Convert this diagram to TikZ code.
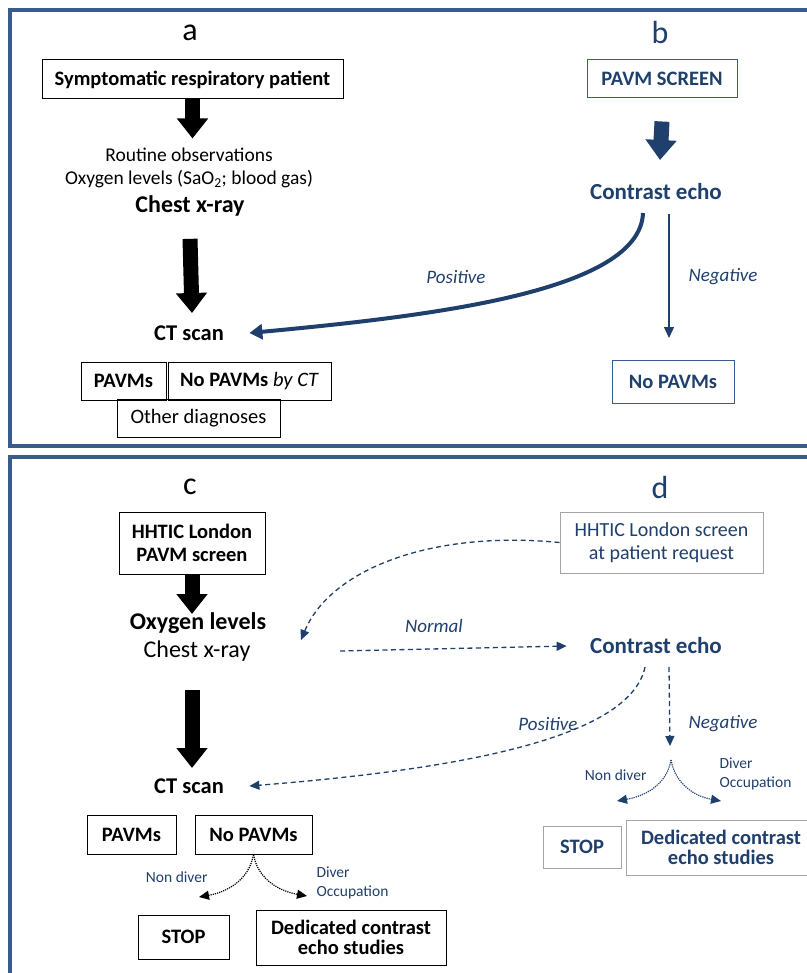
\documentclass[tikz,border=0pt]{standalone}
\usepackage{fontspec}
\setmainfont{Carlito}
\usetikzlibrary{arrows.meta}
\definecolor{panelblue}{RGB}{58,92,140}
\definecolor{navy}{RGB}{31,63,108}
\definecolor{boxgray}{RGB}{165,165,165}

\begin{document}
\begin{tikzpicture}[x=1pt, y=-1pt,
  panel/.style={draw=panelblue, line width=3.5pt},
  letter/.style={font=\fontsize{32}{32}\selectfont},
  box/.style={rectangle, draw, line width=1pt, inner sep=0pt, align=center, font=\bfseries\fontsize{20.5}{23}\selectfont},
  bluebox/.style={box, draw=panelblue, text=navy},
  graybox/.style={box, draw=boxgray, text=navy},
  plain/.style={font=\fontsize{19.5}{23}\selectfont, align=center},
  head/.style={font=\bfseries\fontsize{24}{26}\selectfont},
  echo/.style={font=\bfseries\fontsize{23}{25}\selectfont, text=navy},
  branch/.style={font=\itshape\fontsize{19}{22}\selectfont, text=navy},
  small/.style={font=\fontsize{15.5}{19}\selectfont, align=left},
  bigarrow/.style={draw, line width=15pt, -{Triangle[width=30pt,length=20pt]}},
  thick line/.style={draw=navy, line width=4pt, -{Triangle[width=15pt,length=13pt]}},
  thin line/.style={draw=navy, line width=1.3pt, -{Triangle[width=10pt,length=11pt]}},
  dash line/.style={draw=navy, line width=1.3pt, dash pattern=on 5pt off 3.5pt, -{Triangle[width=9pt,length=10pt]}},
  dot line/.style={draw, line width=1.2pt, densely dotted, -{Triangle[width=9pt,length=10pt]}}
]
    \useasboundingbox (0,0) rectangle (806,973);

    % panels
    \draw [panel] (10,10) rectangle (815,446);
    \draw [panel] (10,457) rectangle (815,985);

    % a
    \node [letter] (la) at (190,33) {a};
    \node [box, minimum width=301pt, minimum height=39pt] (symp) at (192.5,79.5) {Symptomatic respiratory patient};
    \node [plain] (obs) at (189,168) {Routine observations\\Oxygen levels (SaO\textsubscript{2}; blood gas)};
    \node [head] (xray) at (190,206) {Chest x-ray};
    \node [head, font=\bfseries\fontsize{22.5}{24}\selectfont] (cta) at (189,333) {CT scan};
    \node [box, minimum width=85pt, minimum height=38pt] (pavma) at (123.5,381) {PAVMs};
    \node [box, minimum width=163pt, minimum height=38pt] (nopavma) at (249.5,381) {No PAVMs \textmd{\itshape by CT}};
    \node [box, font=\fontsize{20.5}{23}\selectfont, minimum width=163pt, minimum height=38pt] (other) at (198.5,418) {Other diagnoses};

    \path [bigarrow] (symp.south) -- ++(0,39);
    \path [bigarrow] ([yshift=-19pt]xray.south) -- (192,313);

    % b
    \node [letter, text=navy] (lb) at (660,33) {b};
    \node [bluebox, minimum width=150pt, minimum height=38pt] (screen) at (662,79) {PAVM SCREEN};
    \node [echo] (echob) at (656,192) {Contrast echo};
    \node [bluebox, minimum width=122pt, minimum height=43pt] (nopavmb) at (673,381.5) {No PAVMs};
    \coordinate (posb) at (643,213);
    \coordinate (negb) at (669,214);

    \path [bigarrow, draw=navy] ([yshift=-23pt]screen.south) -- (660,160);
    \path [thick line] (posb) .. controls (640,292) and (430,316) .. ([xshift=22pt]cta.east);
    \path [thin line] (negb) -- (669,338);
    \node [branch] at (456,277) {Positive};
    \node [branch] at (723,277) {Negative};

    % c
    \node [letter] (lc) at (190,487) {c};
    \node [box, minimum width=146pt, minimum height=62pt] (hhtic) at (192,543) {HHTIC London\\PAVM screen};
    \node [head] (oxy) at (198,623) {Oxygen levels};
    \node [plain, font=\fontsize{24}{26}\selectfont] (xrayc) at (197,651) {Chest x-ray};
    \node [head, font=\bfseries\fontsize{22.5}{24}\selectfont] (ctc) at (189,786) {CT scan};
    \node [box, minimum width=89pt, minimum height=39pt] (pavmc) at (131.5,834.5) {PAVMs};
    \node [box, minimum width=117pt, minimum height=39pt] (nopavmc) at (253.5,834.5) {No PAVMs};
    \node [box, minimum width=91pt, minimum height=44pt] (stopc) at (183.5,937) {STOP};
    \node [box, font=\bfseries\fontsize{20.5}{20}\selectfont, minimum width=190pt, minimum height=55pt] (dedc) at (351,937.5) {Dedicated contrast\\echo studies};

    \path [bigarrow] (hhtic.south) -- (192,614);
    \path [bigarrow] (192,690) -- (192,768);
    \path [dot line] (nopavmc.south) to [out=-100, in=10] (199,897);
    \path [dot line] (nopavmc.south) to [out=-80, in=170] (307,896);
    \node [small, text=navy, anchor=east] at (211,877) {Non diver};
    \node [small, text=navy, anchor=west] at (313,883) {Diver\\Occupation};

    % d
    \node [letter, text=navy] (ld) at (660,487) {d};
    \node [graybox, font=\fontsize{20}{23}\selectfont, minimum width=203pt, minimum height=61pt] (hhticd) at (661.5,542.5) {HHTIC London screen\\at patient request};
    \node [echo] (echod) at (656,646) {Contrast echo};
    \node [graybox, minimum width=78pt, minimum height=42pt] (stopd) at (582,847) {STOP};
    \node [graybox, font=\bfseries\fontsize{20.5}{20}\selectfont, minimum width=190pt, minimum height=55pt] (dedd) at (721,847.5) {Dedicated contrast\\echo studies};
    \coordinate (posd) at (645,667);
    \coordinate (negd) at (669,667);
    \coordinate (splitd) at (671,760);

    \path [dash line] (hhticd.west) .. controls (430,530) and (330,570) .. (301,640);
    \path [dash line] (340,651) -- ([xshift=-20pt]echod.west);
    \node [branch] at (434,626) {Normal};
    \path [dash line] (posd) .. controls (630,740) and (450,770) .. ([xshift=22pt]ctc.east);
    \path [dash line] (negd) -- (670,746);
    \node [branch] at (548,724) {Positive};
    \node [branch] at (723,724) {Negative};
    \path [dot line, draw=navy] (splitd) to [out=-100, in=10] (617,801);
    \path [dot line, draw=navy] (splitd) to [out=-80, in=170] (721,801);
    \node [small, text=navy, anchor=east] at (650,775) {Non diver};
    \node [small, text=navy, anchor=west] at (716,774) {Diver\\Occupation};
\end{tikzpicture}
\end{document}
